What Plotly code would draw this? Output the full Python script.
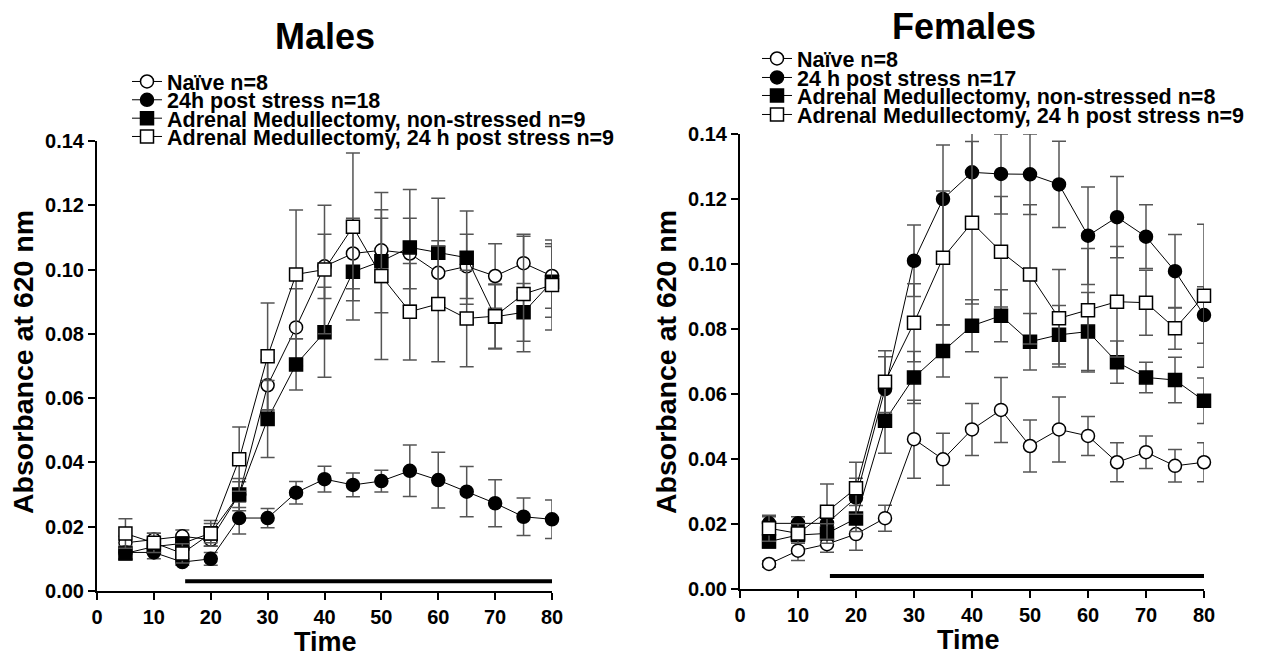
import plotly.graph_objects as go

# ---------------- data ----------------
time_min = [5, 10, 15, 20, 25, 30, 35, 40, 45, 50, 55, 60, 65, 70, 75, 80]

# Males
m_naive = [0.015, 0.016, 0.017, 0.016, 0.030, 0.064, 0.082, 0.101, 0.105, 0.106, 0.105, 0.099, 0.101, 0.098, 0.102, 0.098]
m_naive_err = [0.002, 0.002, 0.002, 0.002, 0.004, 0.008, 0.012, 0.010, 0.011, 0.010, 0.011, 0.010, 0.010, 0.010, 0.009, 0.010]
m_stress = [0.012, 0.012, 0.009, 0.010, 0.0227, 0.0227, 0.0306, 0.0348, 0.033, 0.0342, 0.0374, 0.0345, 0.0309, 0.0273, 0.0231, 0.0223]
m_stress_err = [0.002, 0.002, 0.001, 0.002, 0.005, 0.003, 0.0035, 0.004, 0.0037, 0.0034, 0.008, 0.0087, 0.0078, 0.0073, 0.0058, 0.006]
m_am = [0.0117, 0.0138, 0.0148, 0.018, 0.030, 0.0535, 0.0705, 0.0805, 0.0993, 0.1026, 0.1069, 0.1052, 0.1037, 0.0853, 0.0867, 0.0962]
m_am_err = [0.002, 0.002, 0.002, 0.003, 0.005, 0.012, 0.008, 0.014, 0.015, 0.016, 0.018, 0.017, 0.0145, 0.010, 0.009, 0.011]
m_am24 = [0.0179, 0.015, 0.0117, 0.0179, 0.041, 0.073, 0.0985, 0.100, 0.1133, 0.098, 0.0869, 0.0893, 0.0848, 0.0855, 0.0924, 0.0952]
m_am24_err = [0.0046, 0.003, 0.003, 0.004, 0.010, 0.0166, 0.020, 0.020, 0.023, 0.026, 0.015, 0.018, 0.015, 0.010, 0.018, 0.014]

# Females
f_naive = [0.0077, 0.0118, 0.0138, 0.0169, 0.0218, 0.0461, 0.0399, 0.0491, 0.0551, 0.044, 0.0491, 0.0471, 0.039, 0.0421, 0.0379, 0.039]
f_naive_err = [0.001, 0.003, 0.0025, 0.005, 0.004, 0.012, 0.008, 0.008, 0.010, 0.008, 0.010, 0.006, 0.006, 0.005, 0.005, 0.006]
f_stress = [0.0202, 0.0202, 0.0202, 0.0281, 0.0615, 0.101, 0.120, 0.1282, 0.1277, 0.1276, 0.1245, 0.1087, 0.1144, 0.1084, 0.0978, 0.0843]
f_stress_err = [0.002, 0.002, 0.002, 0.006, 0.010, 0.011, 0.0166, 0.015, 0.0123, 0.0124, 0.0133, 0.015, 0.0125, 0.0098, 0.0113, 0.0087]
f_am = [0.0146, 0.0166, 0.0171, 0.0217, 0.0518, 0.0651, 0.0732, 0.081, 0.0841, 0.0761, 0.0782, 0.0792, 0.0698, 0.0651, 0.0643, 0.0579]
f_am_err = [0.002, 0.002, 0.003, 0.004, 0.010, 0.008, 0.008, 0.008, 0.008, 0.0087, 0.009, 0.012, 0.0065, 0.0047, 0.007, 0.007]
f_am24 = [0.0187, 0.0171, 0.0238, 0.031, 0.0638, 0.0819, 0.1019, 0.1127, 0.1038, 0.0968, 0.0833, 0.0858, 0.0884, 0.0881, 0.0802, 0.0902]
f_am24_err = [0.004, 0.003, 0.0085, 0.008, 0.0095, 0.012, 0.0206, 0.025, 0.017, 0.0214, 0.015, 0.019, 0.017, 0.010, 0.0064, 0.022]

# stress period bar
stress_period = [15.5, 80]
stress_bar_level_m = [0.003, 0.003]
stress_bar_level_f = [0.004, 0.004]

m_names = ["Naïve n=8", "24h post stress n=18",
           "Adrenal Medullectomy, non-stressed n=9",
           "Adrenal Medullectomy, 24 h post stress n=9"]
f_names = ["Naïve n=8", "24 h post stress n=17",
           "Adrenal Medullectomy, non-stressed n=8",
           "Adrenal Medullectomy, 24 h post stress n=9"]

y_ticks = [0.00, 0.02, 0.04, 0.06, 0.08, 0.10, 0.12, 0.14]
x_ticks = [0, 10, 20, 30, 40, 50, 60, 70, 80]

# ---------------- figure ----------------
W, H = 1270, 656
FONT = "Liberation Sans, Arial, sans-serif"
fig = go.Figure()

styles = [("circle", "white"), ("circle", "black"), ("square", "black"), ("square", "white")]


def add_series(xa, ya, y, err, name, style, legend_id):
    sym, fill = style
    fig.add_trace(go.Scatter(
        x=time_min, y=y, name=name, mode="lines+markers",
        xaxis=xa, yaxis=ya, legend=legend_id,
        line=dict(color="black", width=1),
        marker=dict(symbol=sym, size=13, color=fill, line=dict(color="black", width=1.5)),
        error_y=dict(type="data", array=err, visible=True, color="#555555", thickness=1.5, width=7),
        cliponaxis=False,
    ))


m_data = [(m_naive, m_naive_err), (m_stress, m_stress_err), (m_am, m_am_err), (m_am24, m_am24_err)]
f_data = [(f_naive, f_naive_err), (f_stress, f_stress_err), (f_am, f_am_err), (f_am24, f_am24_err)]

for i, (y, e) in enumerate(m_data):
    add_series("x", "y", y, e, m_names[i], styles[i], "legend" if i == 0 else f"legend{i + 1}")
for i, (y, e) in enumerate(f_data):
    add_series("x2", "y2", y, e, f_names[i], styles[i], f"legend{i + 5}")

fig.add_trace(go.Scatter(x=stress_period, y=stress_bar_level_m, mode="lines", xaxis="x", yaxis="y",
                         line=dict(color="black", width=4), showlegend=False, hoverinfo="skip"))
fig.add_trace(go.Scatter(x=stress_period, y=stress_bar_level_f, mode="lines", xaxis="x2", yaxis="y2",
                         line=dict(color="black", width=4), showlegend=False, hoverinfo="skip"))

tickfont = dict(family=FONT, size=20, color="black", weight="bold")


def xaxis(domain, anchor):
    return dict(domain=domain, anchor=anchor, range=[0, 80], tickvals=x_ticks,
                showline=True, linecolor="black", linewidth=2, ticks="outside",
                ticklen=7, tickwidth=2, tickcolor="black", showgrid=False, zeroline=False,
                tickfont=tickfont, automargin=False)


def yaxis(domain, anchor):
    return dict(domain=domain, anchor=anchor, range=[0, 0.14], tickvals=y_ticks, tickformat=".2f",
                showline=True, linecolor="black", linewidth=2, ticks="outside",
                ticklen=7, tickwidth=2, tickcolor="black", showgrid=False, zeroline=False,
                tickfont=tickfont, automargin=False)


legend_font = dict(family=FONT, size=21.5, color="black", weight="bold")
legends = {}
m_rows = [81.5, 99.8, 118.2, 136.5]
f_rows = [58.5, 77.5, 95.5, 114.5]
for i, yc in enumerate(m_rows):
    key = "legend" if i == 0 else f"legend{i + 1}"
    legends[key] = dict(x=127 / W, y=1 - yc / H, xanchor="left", yanchor="middle",
                        font=legend_font, bgcolor="rgba(0,0,0,0)", borderwidth=0)
for i, yc in enumerate(f_rows):
    legends[f"legend{i + 5}"] = dict(x=757 / W, y=1 - yc / H, xanchor="left", yanchor="middle",
                                     font=legend_font, bgcolor="rgba(0,0,0,0)", borderwidth=0)

annotations = [
    dict(text="Males", x=325 / W, y=1 - 36 / H, xref="paper", yref="paper", showarrow=False,
         font=dict(family=FONT, size=36, color="black", weight="bold"), xanchor="center", yanchor="middle"),
    dict(text="Females", x=964 / W, y=1 - 26 / H, xref="paper", yref="paper", showarrow=False,
         font=dict(family=FONT, size=36, color="black", weight="bold"), xanchor="center", yanchor="middle"),
    dict(text="Absorbance at 620 nm", x=23 / W, y=1 - 362 / H, xref="paper", yref="paper", showarrow=False,
         textangle=-90, font=dict(family=FONT, size=28.5, color="black", weight="bold"),
         xanchor="center", yanchor="middle"),
    dict(text="Absorbance at 620 nm", x=666 / W, y=1 - 362 / H, xref="paper", yref="paper", showarrow=False,
         textangle=-90, font=dict(family=FONT, size=28.5, color="black", weight="bold"),
         xanchor="center", yanchor="middle"),
    dict(text="Time", x=325 / W, y=1 - 642 / H, xref="paper", yref="paper", showarrow=False,
         font=dict(family=FONT, size=27, color="black", weight="bold"), xanchor="center", yanchor="middle"),
    dict(text="Time", x=968 / W, y=1 - 640 / H, xref="paper", yref="paper", showarrow=False,
         font=dict(family=FONT, size=27, color="black", weight="bold"), xanchor="center", yanchor="middle"),
]

fig.update_layout(
    width=W, height=H, autosize=False,
    margin=dict(l=0, r=0, t=0, b=0, autoexpand=False),
    paper_bgcolor="white", plot_bgcolor="white",
    xaxis=xaxis([97 / W, 552 / W], "y"),
    yaxis=yaxis([1 - 591 / H, 1 - 141 / H], "x"),
    xaxis2=xaxis([740 / W, 1204 / W], "y2"),
    yaxis2=yaxis([1 - 589 / H, 1 - 134 / H], "x2"),
    annotations=annotations,
    **legends,
)

fig.write_html("out.html", config={"displayModeBar": False},
               post_script="document.body.style.margin='0px';")
